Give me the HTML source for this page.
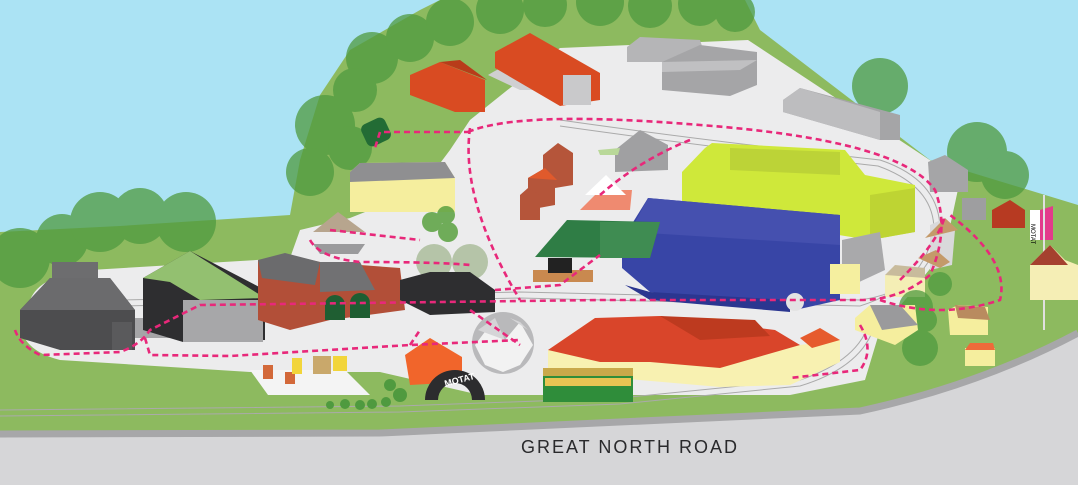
<!DOCTYPE html>
<html><head><meta charset="utf-8"><style>
html,body{margin:0;padding:0;background:#abe3f4;}
svg{display:block}
</style></head><body>
<svg width="1078" height="485" viewBox="0 0 1078 485" xmlns="http://www.w3.org/2000/svg">
<rect width="1078" height="485" fill="#abe3f4"/>
<path d="M0,232 L120,226 L290,215 L300,160 L320,95 L350,50 L420,10 L440,0 L745,0 L760,30 L930,160 L1078,205 L1078,485 L0,485 Z" fill="#8dba5f"/>
<g fill="#4f9a3f" opacity="0.75">
<circle cx="372" cy="58" r="26"/><circle cx="410" cy="38" r="24"/><circle cx="450" cy="22" r="24"/><circle cx="500" cy="10" r="24"/><circle cx="545" cy="5" r="22"/><circle cx="600" cy="2" r="24"/><circle cx="650" cy="6" r="22"/><circle cx="700" cy="4" r="22"/><circle cx="735" cy="12" r="20"/>
<circle cx="355" cy="90" r="22"/><circle cx="325" cy="125" r="30"/><circle cx="350" cy="148" r="22"/><circle cx="310" cy="172" r="24"/>
<circle cx="20" cy="258" r="30"/><circle cx="62" cy="240" r="26"/><circle cx="100" cy="222" r="30"/><circle cx="140" cy="216" r="28"/><circle cx="186" cy="222" r="30"/>
<circle cx="880" cy="86" r="28"/><circle cx="977" cy="152" r="30"/><circle cx="1005" cy="175" r="24"/>
</g>
<path d="M30,300 Q40,275 90,270 L290,258 L300,230 L350,218 L420,190 L450,150 L470,120 L560,48 L748,40 L960,180 L945,250 L905,300 L880,330 L865,380 L790,395 L520,395 L480,395 L380,372 L250,372 L60,360 Q20,350 20,320 Z" fill="#ececed"/>
<path d="M0,434 L380,433 L860,411 Q980,385 1078,333 L1078,485 L0,485 Z" fill="#d6d6d8"/>
<path d="M0,434 L380,433 L860,411 Q980,385 1078,333" fill="none" stroke="#a7a7a9" stroke-width="7"/>
<g fill="none" stroke="#aaa" stroke-width="1">
<path d="M0,410 L400,406 L620,398 L800,380 Q860,360 870,320"/>
<path d="M0,416 L400,412 L620,404 L800,386 Q866,366 876,320"/>
<path d="M560,120 Q700,140 880,160 Q940,180 940,230 Q930,290 860,300"/>
<path d="M560,126 Q700,146 878,166 Q934,186 934,230 Q924,286 860,306"/>
<path d="M120,300 L520,292 L860,300"/><path d="M120,306 L520,298 L860,306"/>
</g>
<path d="M488,75 Q520,55 560,55 L600,90 L520,90 Z" fill="#cfcfd1"/>
<polygon points="410,75 440,62 485,80 485,112 455,112 410,95" fill="#d94b22"/>
<polygon points="440,62 460,60 487,80" fill="#b83c1a"/>
<polygon points="495,52 530,33 600,73 600,100 560,106 495,68" fill="#d94b22"/>
<rect x="563" y="75" width="28" height="30" fill="#c9c9cb"/>
<polygon points="627,47 640,37 700,40 705,55 700,62 627,62" fill="#b5b5b7"/>
<polygon points="662,62 700,45 757,52 757,85 730,96 662,90" fill="#a5a5a7"/>
<polygon points="662,62 757,60 740,70 662,72" fill="#c0c0c2"/>
<polygon points="783,100 800,88 900,115 900,140 880,140 783,112" fill="#a5a5a7"/>
<polygon points="783,100 800,88 880,112 880,140 783,112" fill="#bdbdbf"/>
<rect x="363" y="120" width="26" height="24" fill="#236c35" rx="6" transform="rotate(-25 376 132)"/>
<polygon points="350,172 360,163 445,162 455,178 455,212 350,212" fill="#f5ee9e"/>
<polygon points="350,172 360,163 445,162 455,178 350,182" fill="#8f8f91"/>
<g fill="#5aa140" opacity="0.85"><circle cx="432" cy="222" r="10"/><circle cx="446" cy="215" r="9"/><circle cx="448" cy="232" r="10"/></g>
<g fill="#a8bb98" opacity="0.8"><circle cx="434" cy="262" r="18"/><circle cx="470" cy="262" r="18"/></g>
<polygon points="313,232 338,212 365,232" fill="#b7a58e"/>
<polygon points="313,244 320,254 358,254 365,244" fill="#9a9a9c"/>
<polygon points="543,155 558,143 573,153 573,185 543,190" fill="#b5553a"/>
<polygon points="528,178 545,168 555,175 555,205 528,210" fill="#b5553a"/>
<polygon points="520,195 528,188 540,195 540,220 520,220" fill="#b5553a"/>
<polygon points="528,178 545,168 557,180" fill="#e05a2c"/>
<polygon points="615,150 640,130 668,145 668,170 615,172" fill="#a0a0a2"/>
<polygon points="598,150 620,148 618,155 600,155" fill="#b9d899"/>
<polygon points="580,210 600,190 632,190 630,210" fill="#ef8a70"/>
<polygon points="585,195 606,175 626,195" fill="#ffffff"/>
<polygon points="682,172 705,148 712,143 845,150 865,175 915,185 915,232 870,240 682,210" fill="#cfe83a"/>
<polygon points="730,148 840,152 840,175 730,170" fill="#bcd337"/>
<polygon points="870,195 915,188 915,232 870,240" fill="#bed433"/>
<polygon points="648,198 840,215 840,300 795,310 650,292 622,268 622,240" fill="#3845a6"/>
<polygon points="648,198 840,215 840,245 630,232" fill="#4550af"/>
<polygon points="625,285 650,300 790,312 790,300 650,292" fill="#2b3690"/>
<circle cx="795" cy="302" r="9" fill="#e3e3e3"/>
<polygon points="535,257 567,220 660,222 650,258" fill="#2f7d45"/>
<polygon points="600,222 660,222 650,258 600,258" fill="#3f8c52"/>
<rect x="533" y="270" width="60" height="12" fill="#c9894f"/>
<rect x="548" y="258" width="24" height="15" fill="#222"/>
<polygon points="842,240 880,232 885,270 842,290" fill="#a9a9ab"/>
<rect x="830" y="264" width="30" height="30" fill="#f5ef9f"/>
<polygon points="930,225 945,218 955,230 952,265 930,270" fill="#d9d9db"/>
<polygon points="925,238 945,218 958,230" fill="#c49a6a"/>
<polygon points="918,258 936,250 950,262 940,268" fill="#c49a6a"/>
<rect x="885" y="275" width="40" height="22" fill="#f4eeb5"/>
<polygon points="885,275 895,265 925,268 925,278" fill="#c8bb9c"/>
<polygon points="928,162 945,155 968,170 968,192 930,192" fill="#a5a5a7"/>
<rect x="962" y="198" width="24" height="22" fill="#9e9ea0"/>
<polygon points="992,210 1010,200 1025,210 1025,228 992,228" fill="#b73a22"/>
<rect x="1030" y="210" width="22" height="30" fill="#ffffff"/>
<polygon points="1040,210 1053,206 1053,240 1040,240" fill="#e33b8b"/>
<text x="1035" y="230" font-family="Liberation Sans,sans-serif" font-size="6" fill="#000" transform="rotate(90 1036 225)">MOTAT</text>
<rect x="1043" y="195" width="2" height="135" fill="#e0e0e0"/>
<polygon points="1030,265 1050,245 1065,260 1078,265 1078,300 1030,300" fill="#f5eeb5"/>
<polygon points="1030,265 1050,245 1068,265" fill="#a5412f"/>
<g fill="#4f9a3f" opacity="0.75"><circle cx="940" cy="284" r="12"/><circle cx="916" cy="307" r="17"/><circle cx="925" cy="320" r="12"/><circle cx="920" cy="348" r="18"/></g>
<polygon points="855,318 870,305 915,305 918,330 895,345 855,330" fill="#f5ee9e"/>
<polygon points="870,305 900,305 918,325 882,330" fill="#9a9a9c"/>
<polygon points="948,310 958,305 988,307 988,335 950,335" fill="#f5ee9e"/>
<polygon points="955,305 985,307 990,320 958,318" fill="#b98b5f"/>
<rect x="965" y="348" width="30" height="18" fill="#f5ee9e"/>
<polygon points="965,350 970,343 993,343 995,350" fill="#ee6a3a"/>
<polygon points="20,310 50,278 110,278 135,310 135,350 60,350 20,338" fill="#4d4d4f"/>
<polygon points="20,310 50,278 110,278 135,310" fill="#6b6b6d"/>
<rect x="52" y="262" width="46" height="16" fill="#6d6d6f"/>
<rect x="112" y="322" width="20" height="28" fill="#5a5a5c"/>
<rect x="135" y="318" width="45" height="20" fill="#a5a5a7"/>
<polygon points="143,278 190,251 265,290 265,340 183,342 143,330" fill="#2e2e30"/>
<polygon points="143,278 190,251 265,298 200,300 170,282" fill="#93c070"/>
<rect x="183" y="300" width="80" height="42" fill="#a7a7a9"/>
<polygon points="258,260 290,255 320,262 400,268 405,310 330,320 290,330 258,320" fill="#b24f38"/>
<polygon points="258,260 285,253 320,262 315,285 262,278" fill="#6b6b6d"/>
<polygon points="320,262 360,262 375,290 320,292" fill="#717173"/>
<path d="M325,320 V305 A10,10 0 0 1 345,305 V320 Z M350,318 V303 A10,10 0 0 1 370,303 V318 Z" fill="#1f5e32"/>
<polygon points="400,280 430,272 470,272 495,290 495,312 430,315 400,300" fill="#2e2e30"/>
<circle cx="503" cy="343" r="31" fill="#b9b9bb"/>
<path d="M475,345 L490,325 L505,340 L520,322 L533,345 L520,365 L503,372 L485,365 Z" fill="#f2f2f2"/>
<path d="M478,330 L495,318 L505,340 Z M510,318 L528,330 L520,322 Z" fill="#d5d5d7"/>
<polygon points="405,355 430,338 462,357 462,382 410,385" fill="#f1652b"/>
<path d="M425,400 A28,28 0 0 1 485,400 L472,400 A15,15 0 0 0 438,400 Z" fill="#2c2c2e"/>
<text x="444" y="384" font-family="Liberation Sans,sans-serif" font-size="9" font-weight="bold" fill="#fff" transform="rotate(-15 455 380)">MOTAT</text>
<polygon points="250,370 345,370 370,395 268,395" fill="#f4f4f4"/>
<rect x="263" y="365" width="10" height="14" fill="#d3693a"/><rect x="285" y="372" width="10" height="12" fill="#d3693a"/>
<rect x="292" y="358" width="10" height="16" fill="#f2d53a"/><rect x="313" y="356" width="18" height="18" fill="#c9a86b"/><rect x="333" y="356" width="14" height="15" fill="#f2d53a"/>
<g fill="#4f9a3f"><circle cx="390" cy="385" r="6"/><circle cx="400" cy="395" r="7"/><circle cx="330" cy="405" r="4"/><circle cx="345" cy="404" r="5"/><circle cx="360" cy="405" r="5"/><circle cx="372" cy="404" r="5"/><circle cx="386" cy="402" r="5"/></g>
<polygon points="548,350 595,318 715,318 800,345 840,340 840,362 790,385 720,387 548,372" fill="#f8f1b1"/>
<polygon points="548,350 595,318 660,316 775,330 800,345 720,368 650,362 600,362" fill="#d9452a"/>
<polygon points="660,316 755,320 770,336 700,340" fill="#bd3a1f"/>
<polygon points="800,338 820,328 840,340 812,348" fill="#e65b2d"/>
<rect x="543" y="372" width="90" height="30" fill="#2f8d3a"/>
<rect x="543" y="368" width="90" height="8" fill="#c9a94a"/>
<rect x="545" y="378" width="86" height="8" fill="#e8c453"/>
<g fill="none" stroke="#e8287a" stroke-width="2.6" stroke-dasharray="6 4">
<path d="M470,132 L380,132 L375,148"/>
<path d="M470,128 Q460,200 520,300"/>
<path d="M468,132 Q520,110 700,125 Q900,140 935,190 Q950,230 930,275 Q900,300 860,300 L600,300 L200,305 L150,330 Q140,345 120,352 L40,355 Q20,345 15,330"/>
<path d="M145,338 L150,355 L230,356 L410,345 L520,340"/>
<path d="M410,345 L420,330"/>
<path d="M310,240 Q320,258 360,262 Q440,262 470,265"/>
<path d="M330,230 L420,240"/>
<path d="M495,290 L560,285 L600,255"/>
<path d="M600,195 Q640,160 690,140"/>
<path d="M860,325 Q875,350 860,370 L790,378"/>
<path d="M880,300 Q940,320 1000,300 Q1010,260 950,215"/>
<path d="M900,280 Q940,240 945,215"/>
<path d="M470,310 L520,345"/>
</g>
<text x="630" y="453" text-anchor="middle" font-family="Liberation Sans,sans-serif" font-size="18" letter-spacing="2" fill="#2a2a2c">GREAT NORTH ROAD</text>
</svg>
</body></html>
